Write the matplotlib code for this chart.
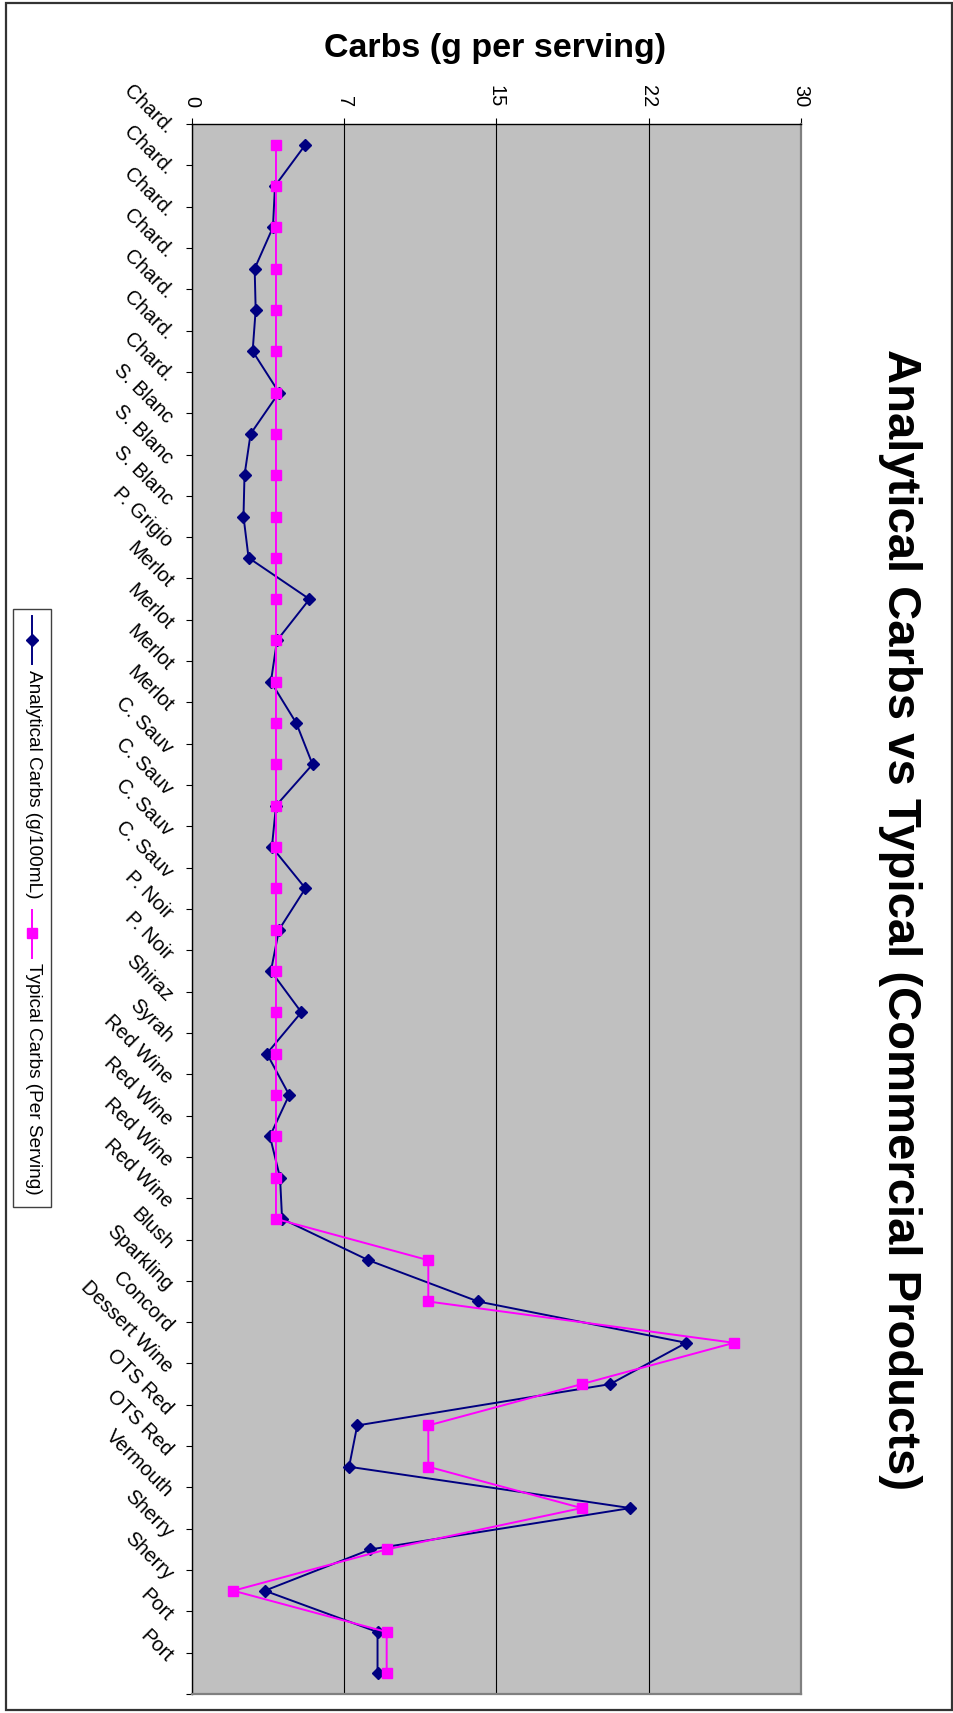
import numpy as np
import matplotlib
matplotlib.use("Agg")
import matplotlib.pyplot as plt
import matplotlib.transforms as mtransforms
from matplotlib.patches import Rectangle
from matplotlib.lines import Line2D

plt.rcParams['font.family'] = ['Liberation Sans', 'DejaVu Sans']

# data (top to bottom)
wines = ['Chard.', 'Chard.', 'Chard.', 'Chard.', 'Chard.', 'Chard.', 'Chard.',
         'S. Blanc', 'S. Blanc', 'S. Blanc', 'P. Grigio',
         'Merlot', 'Merlot', 'Merlot', 'Merlot',
         'C. Sauv', 'C. Sauv', 'C. Sauv', 'C. Sauv',
         'P. Noir', 'P. Noir', 'Shiraz', 'Syrah',
         'Red Wine', 'Red Wine', 'Red Wine', 'Red Wine',
         'Blush', 'Sparkling', 'Concord', 'Dessert Wine',
         'OTS Red', 'OTS Red', 'Vermouth', 'Sherry', 'Sherry', 'Port', 'Port']
analytical = [5.6, 4.1, 4.0, 3.1, 3.15, 3.0, 4.3,
              2.9, 2.6, 2.55, 2.8,
              5.8, 4.2, 3.9, 5.15,
              5.95, 4.15, 3.95, 5.6,
              4.3, 3.9, 5.4, 3.7,
              4.8, 3.85, 4.35, 4.45,
              8.7, 14.1, 24.35, 20.6,
              8.15, 7.75, 21.6, 8.8, 3.6, 9.15, 9.15]
typical = [4.15, 4.15, 4.15, 4.15, 4.15, 4.15, 4.15,
           4.15, 4.15, 4.15, 4.15,
           4.15, 4.15, 4.15, 4.15,
           4.15, 4.15, 4.15, 4.15,
           4.15, 4.15, 4.15, 4.15,
           4.15, 4.15, 4.15, 4.15,
           11.65, 11.65, 26.7, 19.2,
           11.65, 11.65, 19.2, 9.6, 2.05, 9.6, 9.6]
value_ticks = [0, 7.5, 15, 22.5, 30]
value_labels = ['0', '7', '15', '22', '30']

NAVY = '#000080'
MAGENTA = '#FF00FF'
W, H = 954, 1713

fig = plt.figure(figsize=(W / 100, H / 100), dpi=100)
ax = fig.add_axes([191.7 / W, 1 - 1694 / H, (801 - 191.7) / W, (1694 - 124) / H])

pos = np.arange(len(wines))
ax.plot(analytical, pos, color=NAVY, lw=1.4, marker='D', ms=6.5, zorder=3)
ax.plot(typical, pos, color=MAGENTA, lw=1.4, marker='s', ms=7, zorder=4)

ax.set_xlim(0, 30)
ax.set_ylim(len(wines) - 0.5, -0.5)
ax.set_facecolor('#C0C0C0')

# value axis on top, labels turned with the chart
ax.xaxis.tick_top()
ax.set_xticks(value_ticks, value_labels, rotation=-90, fontsize=14.4)
ax.tick_params(axis='x', direction='out', length=4.3, width=0.8, pad=8)
ax.grid(axis='x', color='black', lw=0.8)
ax.set_axisbelow(True)

# category axis on the left
ax.set_yticks(pos, wines, fontsize=14.5)
ax.set_yticks(np.arange(-0.5, len(wines)), minor=True)
ax.tick_params(axis='y', which='major', length=0, pad=0)
ax.tick_params(axis='y', which='minor', direction='out', length=4.3, width=0.8)
shift = mtransforms.ScaledTranslation(-26 / 100, 10 / 100, fig.dpi_scale_trans)
for lab in ax.get_yticklabels():
    lab.set_rotation(-45)
    lab.set_rotation_mode('anchor')
    lab.set_ha('right')
    lab.set_va('baseline')
    lab.set_transform(lab.get_transform() + shift)

for s in ['top', 'left']:
    ax.spines[s].set_color('black')
    ax.spines[s].set_linewidth(1.0)
for s in ['right', 'bottom']:
    ax.spines[s].set_color('#808080')
    ax.spines[s].set_linewidth(1.6)

# overlay in pixel coords for title, legend and frame
ov = fig.add_axes([0, 0, 1, 1], zorder=5)
ov.set_xlim(0, W)
ov.set_ylim(H, 0)
ov.axis('off')

ov.add_patch(Rectangle((6, 3), 946, 1707, fill=False, ec='#333333', lw=1.6))
ov.text(900, 920, 'Analytical Carbs vs Typical (Commercial Products)',
        rotation=-90, ha='center', va='center', fontsize=34, fontweight='bold')
ov.text(495, 49, 'Carbs (g per serving)', ha='center', va='center',
        fontsize=24.5, fontweight='bold')

# legend, drawn upright like the rest of the turned chart
ov.add_patch(Rectangle((13, 609), 38, 598, fc='white', ec='#404040', lw=1.0))
ov.add_line(Line2D([32.3, 32.3], [616, 664], color=NAVY, lw=1.4))
ov.plot([32.3], [640], color=NAVY, marker='D', ms=6.5)
ov.text(33, 670, 'Analytical Carbs (g/100mL)', rotation=-90,
        ha='center', va='top', fontsize=13.7)
ov.add_line(Line2D([32.3, 32.3], [910, 958], color=MAGENTA, lw=1.4))
ov.plot([32.3], [933], color=MAGENTA, marker='s', ms=7)
ov.text(33, 963, 'Typical Carbs (Per Serving)', rotation=-90,
        ha='center', va='top', fontsize=13.7)

fig.savefig('out.png', dpi=100)
